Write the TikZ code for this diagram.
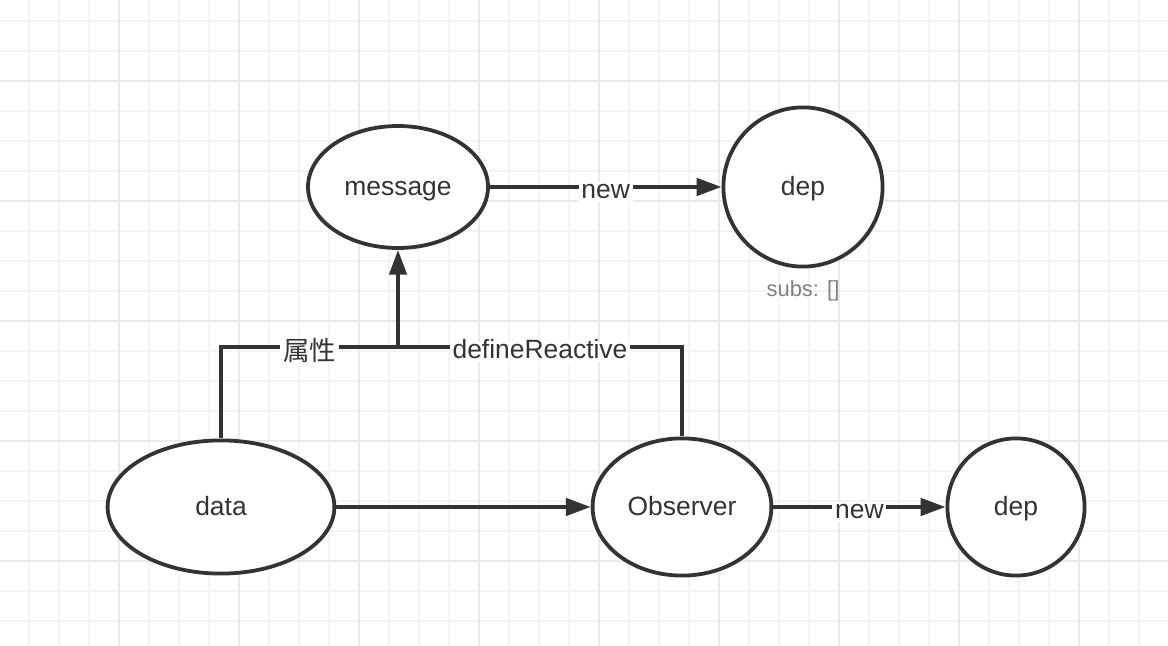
\documentclass[tikz,border=0pt]{standalone}
\usepackage{fontspec}
\setmainfont{Liberation Sans}
\newfontfamily\cjkfont{Noto Sans CJK SC}
\usetikzlibrary{arrows.meta, shapes.geometric}
\definecolor{cink}{HTML}{333333}
\definecolor{cgridmin}{HTML}{F4F4F4}
\definecolor{cgridmaj}{HTML}{EAEAEA}
\definecolor{cnote}{HTML}{808080}
\tikzset{
  every picture/.style={line width=2.7pt, font=\fontsize{18.8}{22}\selectfont},
  blob/.style={ellipse, draw=cink, fill=white, text=cink, inner sep=0pt, text height=12pt, text depth=0pt},
  link/.style={draw=cink},
  arrow/.style={-{Triangle[length=6.2mm, width=4.3mm]}, draw=cink},
  tag/.style={fill=white, text=cink, inner sep=2pt, text height=9.8pt, text depth=0pt, yshift=-3.5pt},
  note/.style={text=cnote, font=\fontsize{15.6}{18}\selectfont},
  gridmin/.style={draw=cgridmin, line width=0.05cm},
  gridmaj/.style={draw=cgridmaj, line width=0.05cm},
}

\begin{document}
\begin{tikzpicture}
  \useasboundingbox[fill=white] (0,0) rectangle (29.2,-16.15);
  % paper grid
  \foreach \i in {0,...,37} \draw[gridmin] (0.725+0.75*\i,0) -- ++(0,-16.15);
  \foreach \j in {0,...,20} \draw[gridmin] (0,-0.5175-0.75*\j) -- ++(29.2,0);
  \foreach \i in {0,...,8} \draw[gridmaj] (2.975+3*\i,0) -- ++(0,-16.15);
  \foreach \j in {0,...,4} \draw[gridmaj] (0,-2.0175-3*\j) -- ++(29.2,0);

  \node[blob, minimum width=4.5cm, minimum height=3.05cm] (message) at (9.95,-4.675) {message};
  \node[blob, minimum width=3.98cm, minimum height=3.98cm] (dep) at (20.075,-4.675) {dep};
  \node[note] (subs) at (20.075,-7.28) {subs: []};
  \node[blob, minimum width=5.67cm, minimum height=3.33cm] (data) at (5.525,-12.675) {data};
  \node[blob, minimum width=4.47cm, minimum height=3.43cm] (observer) at (17.05,-12.675) {Observer};
  \node[blob, minimum width=3.43cm, minimum height=3.43cm] (dep2) at (25.4,-12.675) {dep};
  \coordinate (join) at (9.95,-8.675);

  \draw[link] (data.north) |- node[tag, pos=0.75, yshift=-1pt] {\cjkfont 属性} (join);
  \draw[link] (observer.north) |- node[tag, pos=0.75] {defineReactive} (join);
  \draw[arrow] (join) -- (message.south);
  \draw[arrow] (message) -- node[tag] {new} (dep);
  \draw[arrow] (data) -- (observer);
  \draw[arrow] (observer) -- node[tag] {new} (dep2);
\end{tikzpicture}
\end{document}
